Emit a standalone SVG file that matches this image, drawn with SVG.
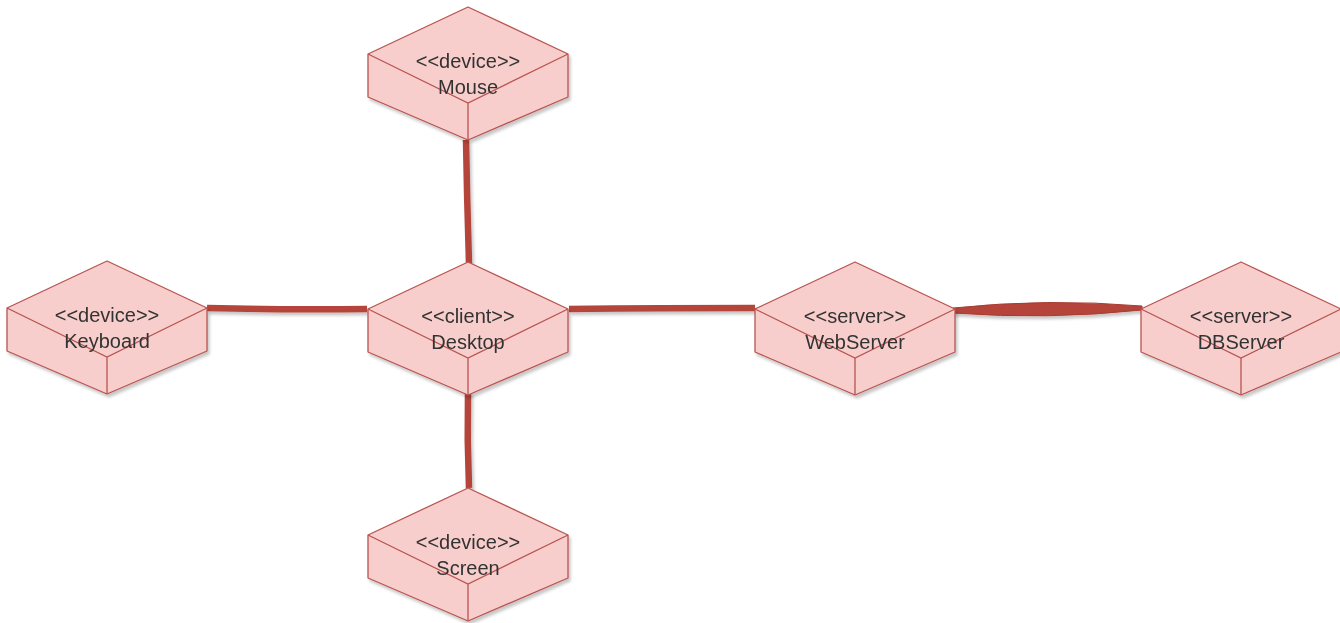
<svg xmlns="http://www.w3.org/2000/svg" width="1340" height="623" viewBox="0 0 1340 623">
  <defs>
    <filter id="shadow" x="-10%" y="-10%" width="130%" height="130%">
      <feDropShadow dx="2" dy="3" stdDeviation="1.8" flood-color="#000" flood-opacity="0.22"/>
    </filter>
    <!-- isometric node box, 200 wide, 133 tall -->
    <g id="box">
      <path class="body" d="M100,0 L200,47 L200,90 L100,133 L0,90 L0,47 Z"/>
      <path class="edge" d="M0,47 L100,96 L200,47 M100,96 L100,133"/>
    </g>
  </defs>
  <style>
    .body { fill: #f8cecc; stroke: #b85450; stroke-width: 1.3; stroke-linejoin: round; }
    .edge { fill: none; stroke: #b85450; stroke-width: 1.3; }
    .node { filter: url(#shadow); }
    .label { font-family: "Liberation Sans", Arial, sans-serif; font-size: 20px; fill: #333333; text-anchor: middle; }
    .link { fill: none; stroke: #b5443a; stroke-width: 6.5; stroke-linecap: butt; }
    .lens { fill: #b5443a; stroke: #a83c33; stroke-width: 1; }
  </style>

  <rect width="1340" height="623" fill="#ffffff"/>

  <g id="connectors" filter="url(#shadow)">
    <path class="link" d="M466,140 Q467,200 469,263"/>
    <path class="link" d="M207,308 Q290,310 367,309"/>
    <path class="link" d="M569,309 Q660,308 755,308"/>
    <path class="link" d="M468,392 Q467,440 469,488"/>
    <path class="lens" d="M953,308 Q1048,298 1142,306 L1142,310 Q1048,320 953,313 Z"/>
  </g>

  <g id="node-mouse" class="node" transform="translate(368,7)">
    <use href="#box"/>
    <text class="label" x="100" y="61">&lt;&lt;device&gt;&gt;</text>
    <text class="label" x="100" y="87">Mouse</text>
  </g>

  <g id="node-keyboard" class="node" transform="translate(7,261)">
    <use href="#box"/>
    <text class="label" x="100" y="61">&lt;&lt;device&gt;&gt;</text>
    <text class="label" x="100" y="87">Keyboard</text>
  </g>

  <g id="node-desktop" class="node" transform="translate(368,262)">
    <use href="#box"/>
    <text class="label" x="100" y="61">&lt;&lt;client&gt;&gt;</text>
    <text class="label" x="100" y="87">Desktop</text>
  </g>

  <g id="node-webserver" class="node" transform="translate(755,262)">
    <use href="#box"/>
    <text class="label" x="100" y="61">&lt;&lt;server&gt;&gt;</text>
    <text class="label" x="100" y="87">WebServer</text>
  </g>

  <g id="node-dbserver" class="node" transform="translate(1141,262)">
    <use href="#box"/>
    <text class="label" x="100" y="61">&lt;&lt;server&gt;&gt;</text>
    <text class="label" x="100" y="87">DBServer</text>
  </g>

  <g id="node-screen" class="node" transform="translate(368,488)">
    <use href="#box"/>
    <text class="label" x="100" y="61">&lt;&lt;device&gt;&gt;</text>
    <text class="label" x="100" y="87">Screen</text>
  </g>
</svg>
